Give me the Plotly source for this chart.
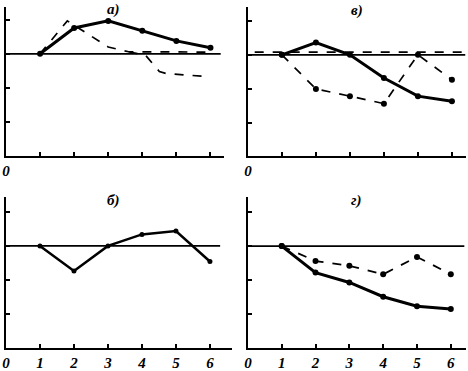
import plotly.graph_objects as go

W, H = 468, 371

# ---- data ----
# panel а)
a_solid_x = [1, 2, 3, 4, 5, 6]
a_solid_y = [0, 0.76, 0.97, 0.68, 0.38, 0.18]
a_dash1_x = [1, 1.8, 3.0, 3.6, 6.0]
a_dash1_y = [0, 0.97, 0.2, 0.06, 0.05]
a_dash2_x = [3.6, 4.1, 4.5, 4.7, 6.0]
a_dash2_y = [0.06, -0.05, -0.52, -0.58, -0.68]
a_base_x = [0, 6.3]

# panel в)
v_solid_x = [1, 2, 3, 4, 5, 6]
v_solid_y = [0, 0.36, 0, -0.68, -1.21, -1.36]
v_dash_x = [1, 2, 3, 4, 5, 6]
v_dash_y = [0, -1.0, -1.21, -1.43, 0, -0.73]
v_flat_x = [0.2, 6.35]
v_flat_y = [0.08, 0.08]
v_base_x = [0, 6.4]

# panel б)
b_solid_x = [1, 2, 3, 4, 5, 6]
b_solid_y = [0, -0.74, 0, 0.34, 0.44, -0.46]
b_base_x = [0, 6.3]

# panel г)
g_solid_x = [1, 2, 3, 4, 5, 6]
g_solid_y = [0, -0.78, -1.07, -1.49, -1.77, -1.85]
g_dash_x = [1, 2, 3, 4, 5, 6]
g_dash_y = [0, -0.44, -0.58, -0.83, -0.32, -0.83]
g_base_x = [0, 6.4]

titles = ["а)", "в)", "б)", "г)"]
x_ticks = [0, 1, 2, 3, 4, 5, 6]
x_labels_bottom = ["0", "1", "2", "3", "4", "5", "6"]
x_labels_top = ["0", "", "", "", "", "", ""]
y_ticks = [-2, -1, 0, 1]

FONT = dict(family="Liberation Serif", size=15, color="black", weight="bold", style="italic")

fig = go.Figure()

def px_dom_x(a, b):
    return [a / W, b / W]

def px_dom_y(top, bottom):
    return [1 - bottom / H, 1 - top / H]

panels = [
    ("", (2, 222), (7, 156), [0, 6.4], [-3, 1.38], x_labels_top),
    ("2", (246, 465.5), (7, 156), [0, 6.4], [-2.95, 1.4], x_labels_top),
    ("3", (2, 230), (198, 348.5), [0, 6.65], [-3, 1.43], x_labels_bottom),
    ("4", (246, 466), (198, 349), [0, 6.45], [-3, 1.43], x_labels_bottom),
]

layout = dict(
    width=W, height=H, margin=dict(l=0, r=0, t=0, b=0),
    paper_bgcolor="white", plot_bgcolor="white", showlegend=False,
)
for suf, xd, yd, xr, yr, lbl in panels:
    layout["xaxis" + suf] = dict(
        domain=px_dom_x(*xd), range=xr, anchor="y" + suf,
        showgrid=False, zeroline=False, showline=True, linecolor="black", linewidth=2,
        ticks="inside", ticklen=4, tickwidth=2, tickcolor="black",
        tickvals=x_ticks, ticktext=lbl, tickfont=FONT,
    )
    layout["yaxis" + suf] = dict(
        domain=px_dom_y(*yd), range=yr, anchor="x" + suf,
        showgrid=False, zeroline=False, showline=True, linecolor="black", linewidth=2,
        ticks="inside", ticklen=4, tickwidth=2, tickcolor="black",
        tickvals=y_ticks, showticklabels=False,
    )
fig.update_layout(**layout)

def line(x, y, ax, dash="solid", width=2.5, markers=False, msize=6):
    fig.add_trace(go.Scatter(
        x=x, y=y, xaxis="x" + ax, yaxis="y" + ax,
        mode="lines+markers" if markers else "lines",
        line=dict(color="black", width=width, dash=dash),
        marker=dict(color="black", size=msize),
        hoverinfo="skip", cliponaxis=False,
    ))

# baselines
line(a_base_x, [0, 0], "", width=1.8)
line(v_base_x, [0, 0], "2", width=1.8)
line(b_base_x, [0, 0], "3", width=1.8)
line(g_base_x, [0, 0], "4", width=1.8)

# а)
line(a_dash1_x, a_dash1_y, "", dash="dash", width=1.7)
line(a_dash2_x, a_dash2_y, "", dash="dash", width=1.7)
line(a_solid_x, a_solid_y, "", width=3, markers=True)

# в)
line(v_flat_x, v_flat_y, "2", dash="dash", width=1.7)
line(v_dash_x, v_dash_y, "2", dash="dash", width=1.7, markers=True)
line(v_solid_x, v_solid_y, "2", width=3, markers=True)

# б)
line(b_solid_x, b_solid_y, "3", width=2.5, markers=True, msize=5)

# г)
line(g_dash_x, g_dash_y, "4", dash="dash", width=1.8, markers=True)
line(g_solid_x, g_solid_y, "4", width=3, markers=True)

# titles
title_pos = [(3.15, 1.3, ""), (3.2, 1.3, "2"), (3.15, 1.35, "3"), (3.2, 1.35, "4")]
for t, (tx, ty, suf) in zip(titles, title_pos):
    fig.add_annotation(x=tx, y=ty, xref="x" + suf, yref="y" + suf, text=t,
                       showarrow=False, font=FONT)

fig.write_html("out.html", config={"displayModeBar": False},
               post_script="document.body.style.margin='0';document.body.style.overflow='hidden';")
